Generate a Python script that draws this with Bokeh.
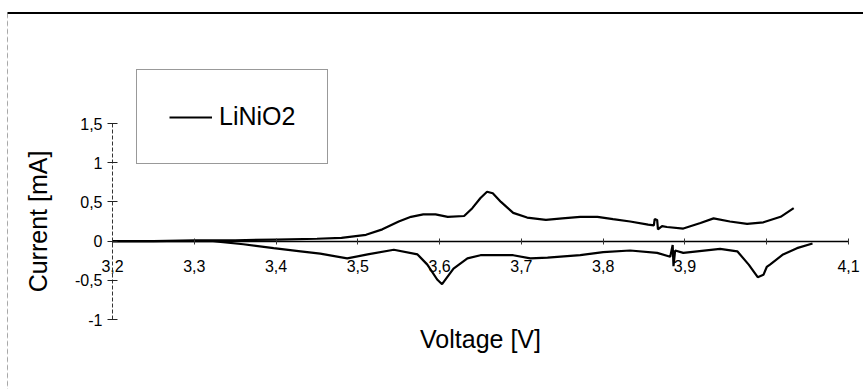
from bokeh.plotting import figure
from bokeh.models import (LinearAxis, FixedTicker, Legend, LegendItem,
                          BoxAnnotation, Range1d)
from bokeh.embed import file_html
from bokeh.resources import INLINE

# ---- data ----
charge_v = [3.20, 3.25, 3.30, 3.35, 3.40, 3.45, 3.48, 3.51, 3.53, 3.55, 3.565, 3.58,
            3.595, 3.61, 3.63, 3.64, 3.65, 3.658, 3.665, 3.675, 3.69, 3.707, 3.73,
            3.75, 3.772, 3.793, 3.812, 3.833, 3.855, 3.862, 3.863, 3.866, 3.867,
            3.872, 3.878, 3.898, 3.919, 3.935, 3.955, 3.976, 3.996, 4.017, 4.033]
charge_i = [0.00, 0.00, 0.01, 0.01, 0.02, 0.03, 0.04, 0.08, 0.15, 0.25, 0.31, 0.34,
            0.34, 0.31, 0.32, 0.42, 0.55, 0.63, 0.61, 0.50, 0.36, 0.30, 0.27,
            0.29, 0.31, 0.31, 0.28, 0.25, 0.21, 0.20, 0.28, 0.27, 0.15,
            0.19, 0.18, 0.16, 0.23, 0.29, 0.25, 0.22, 0.24, 0.31, 0.42]

discharge_v = [3.20, 3.25, 3.30, 3.323, 3.36, 3.397, 3.43, 3.454, 3.487, 3.512, 3.544,
               3.573, 3.585, 3.597, 3.603, 3.617, 3.634, 3.650, 3.690, 3.711, 3.732,
               3.772, 3.800, 3.833, 3.866, 3.882, 3.885, 3.886, 3.888, 3.898, 3.915,
               3.943, 3.964, 3.978, 3.989, 3.996, 4.000, 4.004, 4.020, 4.037, 4.056]
discharge_i = [0.00, 0.00, 0.00, 0.00, -0.04, -0.09, -0.13, -0.16, -0.22, -0.17, -0.11,
               -0.17, -0.30, -0.49, -0.55, -0.35, -0.22, -0.18, -0.18, -0.22, -0.21,
               -0.18, -0.14, -0.12, -0.15, -0.20, -0.05, -0.32, -0.12, -0.15, -0.13,
               -0.10, -0.13, -0.30, -0.46, -0.43, -0.33, -0.30, -0.17, -0.09, -0.03]

x_ticks = [3.2, 3.3, 3.4, 3.5, 3.6, 3.7, 3.8, 3.9, 4.0, 4.1]
x_tick_labels = ["3,2", "3,3", "3,4", "3,5", "3,6", "3,7", "3,8", "3,9", "", "4,1"]
y_ticks = [-1, -0.5, 0, 0.5, 1, 1.5]
y_tick_labels = ["-1", "-0,5", "0", "0,5", "1", "1,5"]
x_bounds = (3.2, 4.1)
y_bounds = (-1, 1.5)
series_name = "LiNiO2"

FONT = "Liberation Sans"
W, H = 863, 389

# layout: the axes sit inside a frame that fills the whole canvas
ax_left_px, ax_right_px = 112, 848      # pixel position of 3.2 and 4.1
ax_top_px, ax_bottom_px = 123, 319      # pixel position of 1.5 and -1
sx = (ax_right_px - ax_left_px) / (x_bounds[1] - x_bounds[0])
sy = (ax_bottom_px - ax_top_px) / (y_bounds[1] - y_bounds[0])
x_range = Range1d(x_bounds[0] - ax_left_px / sx, x_bounds[1] + (W - ax_right_px) / sx)
y_range = Range1d(y_bounds[0] - (H - ax_bottom_px) / sy, y_bounds[1] + ax_top_px / sy)

p = figure(width=W, height=H, output_backend="svg", toolbar_location=None,
           x_range=x_range, y_range=y_range,
           x_axis_location=None, y_axis_location=None,
           min_border=0, background_fill_color="white",
           border_fill_color="white")
p.outline_line_color = None
p.xgrid.visible = False
p.ygrid.visible = False

# y axis at V = 3.2
yaxis = LinearAxis(ticker=FixedTicker(ticks=y_ticks), bounds=y_bounds,
                   major_label_overrides=dict(zip(y_ticks, y_tick_labels)))
yaxis.fixed_location = x_bounds[0]
yaxis.axis_label = "Current [mA]"
yaxis.axis_label_text_font = FONT
yaxis.axis_label_text_font_size = "25px"
yaxis.axis_label_text_font_style = "normal"
yaxis.axis_label_text_color = "black"
yaxis.axis_label_standoff = 20
yaxis.major_label_text_font = FONT
yaxis.major_label_text_font_size = "16px"
yaxis.major_label_text_color = "black"
yaxis.major_label_standoff = 5
yaxis.axis_line_color = "#333333"
yaxis.axis_line_dash = "4 2"
yaxis.axis_line_width = 1
yaxis.major_tick_in = 5
yaxis.major_tick_out = 5
yaxis.major_tick_line_color = "#222222"
yaxis.minor_tick_line_color = None
p.add_layout(yaxis, "left")

# x axis at I = 0
xaxis = LinearAxis(ticker=FixedTicker(ticks=x_ticks), bounds=x_bounds,
                   major_label_overrides=dict(zip(x_ticks, x_tick_labels)))
xaxis.fixed_location = 0
xaxis.axis_label = "Voltage [V]"
xaxis.axis_label_text_font = FONT
xaxis.axis_label_text_font_size = "25px"
xaxis.axis_label_text_font_style = "normal"
xaxis.axis_label_text_color = "black"
xaxis.axis_label_standoff = 49
xaxis.major_label_text_font = FONT
xaxis.major_label_text_font_size = "16px"
xaxis.major_label_text_color = "black"
xaxis.major_label_standoff = 16
xaxis.axis_line_color = "black"
xaxis.axis_line_width = 1.5
xaxis.major_tick_in = 3
xaxis.major_tick_out = 3
xaxis.major_tick_line_color = "#333333"
xaxis.minor_tick_line_color = None
p.add_layout(xaxis, "below")

r1 = p.line(charge_v, charge_i, line_color="black", line_width=2.2)
r2 = p.line(discharge_v, discharge_i, line_color="black", line_width=2.2)

legend = Legend(items=[LegendItem(label=series_name, renderers=[r1])],
                location=(136, H - 164), padding=32, spacing=0, margin=0,
                glyph_width=43, glyph_height=22, label_standoff=7,
                label_text_font=FONT, label_text_font_size="25px",
                label_text_color="black", border_line_color="#333333",
                border_line_width=1.2, background_fill_alpha=0)
p.add_layout(legend, "center")

# outer frame of the scanned figure
p.add_layout(BoxAnnotation(left=7, right=W + 5, top=11.5, bottom=13.5,
                           left_units="canvas", right_units="canvas",
                           top_units="canvas", bottom_units="canvas",
                           fill_color="black", fill_alpha=1, line_color=None))
p.add_layout(BoxAnnotation(left=7, right=7, top=12, bottom=H + 10,
                           left_units="canvas", right_units="canvas",
                           top_units="canvas", bottom_units="canvas",
                           fill_alpha=0, line_color="#555555", line_width=1,
                           line_dash="5 3"))

open("out.html", "w").write(file_html(p, INLINE))
